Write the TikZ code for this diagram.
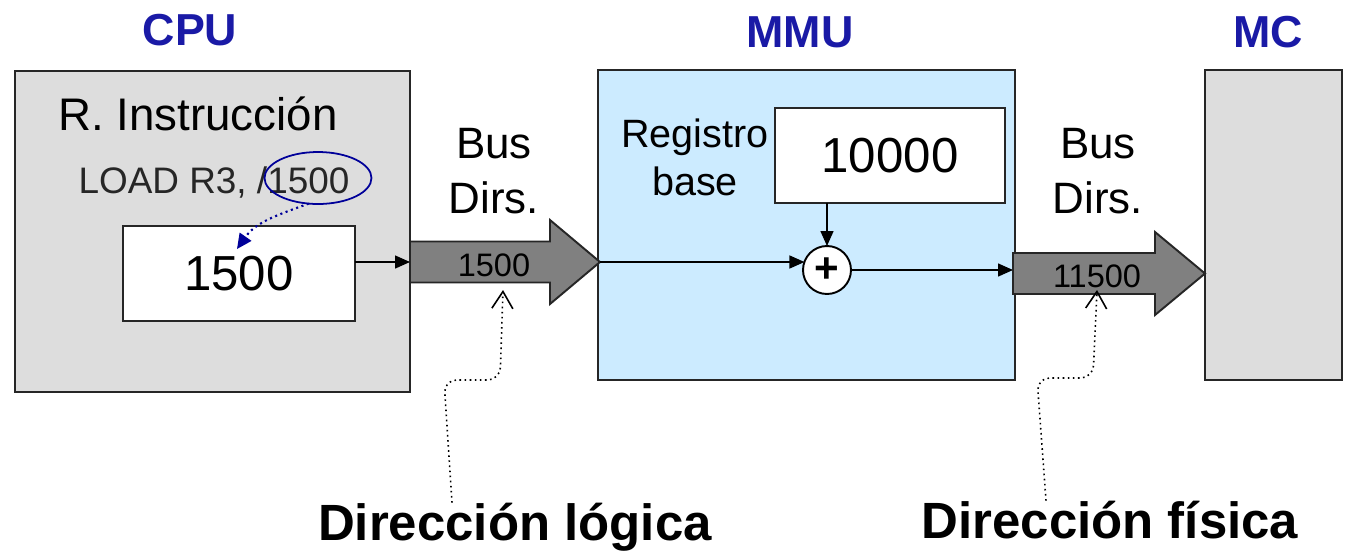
\documentclass[tikz,border=0pt]{standalone}
\usepackage{fontspec}
\setmainfont{Liberation Sans}
\usetikzlibrary{arrows.meta, shapes.geometric}
\definecolor{cpugray}{HTML}{DDDDDD}
\definecolor{mmublue}{HTML}{CCEBFF}
\definecolor{busgray}{HTML}{808080}
\definecolor{titleblue}{HTML}{1A1AA6}
\definecolor{ringblue}{HTML}{000099}
\newcommand{\fsz}[2]{\fontsize{#1pt}{#2pt}\selectfont}

\begin{document}
\begin{tikzpicture}[x=0.02cm, y=-0.02cm,
  every node/.style={inner sep=0pt, outer sep=0pt},
  block/.style={draw=black!85, line width=1.1pt, minimum height=6.2cm},
  regbox/.style={draw=black!85, fill=white, line width=1.1pt, minimum width=4.64cm, minimum height=1.9cm},
  title/.style={font=\fsz{25.5}{30}\bfseries, text=titleblue, anchor=base},
  busarrow/.style={draw=black!85, fill=busgray, line width=1.1pt, line join=miter},
  buslabel/.style={font=\fsz{25}{31}, align=center, anchor=base},
  addr/.style={font=\fsz{18.5}{22}, anchor=base},
  wire/.style={line width=0.85pt, -{Triangle[length=0.3cm, width=0.26cm]}},
  pointer/.style={dotted, line width=0.9pt, rounded corners=0.25cm, -{Straight Barb[length=0.34cm, width=0.42cm, line width=0.9pt]}},
  caption/.style={font=\fsz{29}{34}\bfseries, anchor=base},
]
\useasboundingbox (0,0) rectangle (1350,552);

% units
\node[block, fill=cpugray, minimum width=7.9cm, minimum height=6.42cm] (cpu) at (212.5,231.5) {};
\node[block, fill=mmublue, minimum width=8.34cm] (mmu) at (806.5,225) {};
\node[block, fill=cpugray, minimum width=2.74cm] (mc) at (1273.5,225) {};

\node[title] (cputitle) at (190,45) {CPU};
\node[title] (mmutitle) at (800,47) {MMU};
\node[title] (mctitle) at (1268,47) {MC};

% CPU
\node[font=\fsz{26}{30}, anchor=base] (ri) at (198,130) {R. Instrucción};
\node[font=\fsz{21}{24}, text=black!85, anchor=base] (instr) at (214,193) {LOAD R3, /1500};
\node[draw=ringblue, line width=1pt, ellipse, minimum width=2.14cm, minimum height=1.04cm] (ring) at (318,178) {};
\node[regbox] (ir) at (239,273.5) {\fsz{28}{32}1500};
\coordinate (irtip) at (237,249);
\draw[ringblue, dotted, line width=1.2pt, -{Triangle[length=0.3cm, width=0.28cm]}] (ring.250) to[out=200, in=55] (irtip);

% bus CPU -> MMU
\coordinate (b1tail) at (410,262);
\coordinate (b1tip) at (600,262);
\draw[busarrow] (410,241.5) -- (550,241.5) -- (550,220) -- (b1tip) -- (550,304) -- (550,282.5) -- (410,282.5) -- cycle;
\node[addr] (addr1) at (494,276) {1500};
\node[buslabel] (bus1) at (494,213) {Bus\\Dirs.};
\draw[wire] (ir.east |- b1tail) -- (b1tail);

% MMU
\node[font=\fsz{22.5}{27}, align=center, anchor=base] (rb) at (695,195) {Registro\\base};
\node[regbox, minimum width=4.6cm] (base) at (890,155.5) {\fsz{28}{32}10000};
\node[draw=black, fill=white, line width=1.1pt, circle, minimum size=0.96cm, font=\fsz{24}{24}\bfseries] (sum) at (827,270) {+};
\coordinate (b2tail) at (1013,273.5);
\coordinate (b2tip) at (1205,273.5);
\draw[wire] (sum.north |- base.south) -- (sum.north);
\draw[wire] (b1tip) -- (b1tip -| sum.160);
\draw[wire] (sum.east) -- (sum.east -| b2tail);

% bus MMU -> MC
\draw[busarrow] (1013,253) -- (1155,253) -- (1155,232) -- (b2tip) -- (1155,315) -- (1155,294) -- (1013,294) -- cycle;
\node[addr] (addr2) at (1097,287) {11500};
\node[buslabel] (bus2) at (1098,213) {Bus\\Dirs.};

% captions
\node[caption] (dirlog) at (515,540) {Dirección lógica};
\node[caption] (dirfis) at (1110,538) {Dirección física};
\coordinate (a1) at (503,290);
\coordinate (a2) at (1097,290);
\draw[pointer] ([xshift=-1.26cm]dirlog.north) -- (444,380) -- (500,380) -- (a1);
\draw[pointer] ([xshift=-1.28cm]dirfis.north) -- (1037,378) -- (1093,378) -- (a2);

\end{tikzpicture}
\end{document}
